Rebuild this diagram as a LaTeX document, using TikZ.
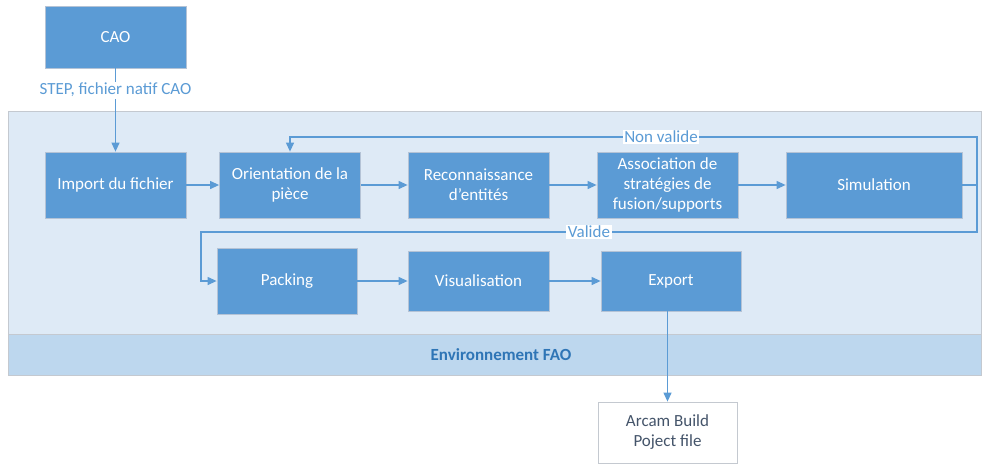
\documentclass[tikz,border=0pt]{standalone}
\usepackage{fontspec}
\setmainfont{Carlito}
\usepackage{tikz}
\usetikzlibrary{arrows.meta}
\definecolor{bleu}{HTML}{5B9BD5}
\definecolor{bordure}{HTML}{B4C3D6}
\definecolor{fond}{HTML}{DEEAF6}
\definecolor{bande}{HTML}{BDD7EE}
\definecolor{cadre}{HTML}{C4C9D0}
\definecolor{titre}{HTML}{2E75B6}
\definecolor{ardoise}{HTML}{44546A}

\begin{document}
\begin{tikzpicture}[x=1pt,y=-1pt,>={Triangle[length=9pt,width=8pt]},
		boite/.style={draw=bordure,fill=bleu,text=white,line width=0.8pt,align=center,
			inner sep=2pt,font=\fontsize{17}{20}\selectfont},
		fleche/.style={->,draw=bleu,line width=1.2pt},
		etiq/.style={fill=white,text=bleu,inner sep=1.5pt,font=\fontsize{17}{18}\selectfont}]
		\useasboundingbox (0,0) rectangle (982,464);
		% Environnement FAO
		\draw [draw=cadre,fill=fond,line width=0.8pt] (8,111) rectangle (981,375);
		\draw [draw=cadre,fill=bande,line width=0.8pt] (8,334) rectangle (981,375);
		\node (env) [text=titre,font=\fontsize{17}{18}\selectfont\bfseries] at (501,355) {Environnement FAO};
		
		% Boites
		\node (cao) [boite,minimum width=141pt,minimum height=62pt] at (115.5,37) {CAO};
		\node (import) [boite,minimum width=141pt,minimum height=66pt] at (115.5,185) {Import du fichier};
		\node (orient) [boite,minimum width=141pt,minimum height=66pt] at (290,185) {Orientation de la\\pièce};
		\node (recon) [boite,minimum width=141pt,minimum height=66pt] at (478.5,185) {Reconnaissance\\d’entités};
		\node (assoc) [boite,minimum width=141pt,minimum height=66pt] at (667.5,185) {Association de\\stratégies de\\fusion/supports};
		\node (simu) [boite,minimum width=176pt,minimum height=66pt] at (874,185) {Simulation};
		\node (packing) [boite,minimum width=140pt,minimum height=66pt] at (287,281) {Packing};
		\node (visu) [boite,minimum width=141pt,minimum height=60pt] at (478.5,281) {Visualisation};
		\node (export) [boite,minimum width=140pt,minimum height=60pt] at (671,281) {Export};
		\node (arcam) [draw=cadre,fill=white,text=ardoise,line width=0.8pt,align=center,
			font=\fontsize{17}{20}\selectfont,minimum width=139pt,minimum height=61pt] at (667.5,432.5) {Arcam Build\\Poject file};
		
		% Fleches
		\draw [fleche] (cao) -- node [etiq,pos=0.26] {STEP, fichier natif CAO} (import);
		\draw [fleche] (import) -- (orient);
		\draw [fleche] (orient) -- (recon);
		\draw [fleche] (recon) -- (assoc);
		\draw [fleche] (assoc) -- (simu);
		\draw [fleche] (packing) -- (visu);
		\draw [fleche] (visu) -- (export);
		\draw [fleche] (arcam.north |- export.south) -- (arcam.north);
		
		% Boucle
		\coordinate (nv) at (977,137);
		\coordinate (va) at (977,232);
		\coordinate (vb) at (201,232);
		\draw [fleche] (simu.east) -| (nv) -| node [etiq,pos=0.23] {Non valide} (orient.north);
		\draw [fleche] (simu.east) -| (va) -- node [etiq,pos=0.5] {Valide} (vb) |- (packing.west);
	\end{tikzpicture}
\end{document}
